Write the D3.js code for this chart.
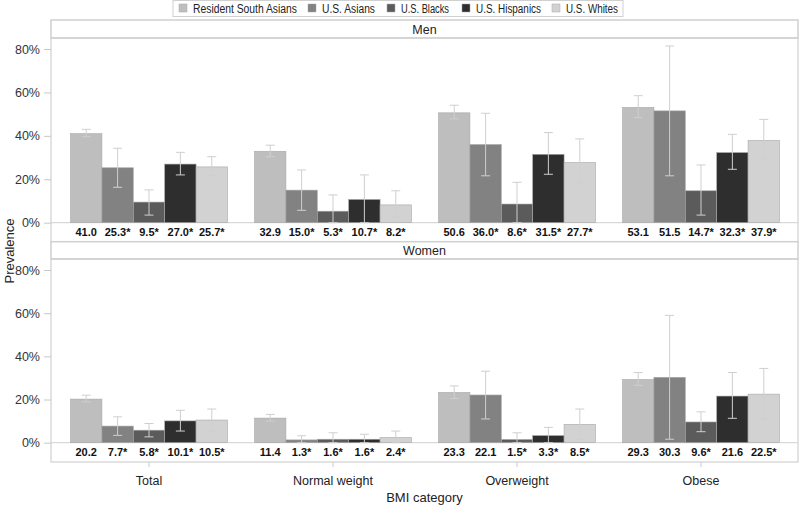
<!DOCTYPE html>
<html><head><meta charset="utf-8">
<script src="https://cdn.jsdelivr.net/npm/d3@7"></script>
<style>body{margin:0;background:#fff}svg{display:block;font-family:"Liberation Sans",Arial,sans-serif}</style>
</head><body><svg id="c" width="800" height="507"></svg>
<script>
const categories = ["Total","Normal weight","Overweight","Obese"];
const seriesNames = ["Resident South Asians","U.S. Asians","U.S. Blacks","U.S. Hispanics","U.S. Whites"];
const seriesColors = ["#bebebe","#828282","#5b5b5b","#2e2e2e","#d2d2d2"];
const yTicks = [0,20,40,60,80];

// Men: values per series across categories
const menRSA = [41.0, 32.9, 50.6, 53.1];
const menAsians = [25.3, 15.0, 36.0, 51.5];
const menBlacks = [9.5, 5.3, 8.6, 14.7];
const menHispanics = [27.0, 10.7, 31.5, 32.3];
const menWhites = [25.7, 8.2, 27.7, 37.9];
const menSig = [[0,0,0,0],[1,1,1,0],[1,1,1,1],[1,1,1,1],[1,1,1,1]];
const menLow = [[39.6,30.4,47.8,48.4],[16.3,5.7,21.6,21.6],[3.5,0,0,3.5],[22.0,0,22.3,24.6],[21.7,2.5,17.8,28.9]];
const menHigh = [[43.0,35.7,54.1,58.5],[34.3,24.3,50.4,81.4],[15.1,12.8,18.6,26.6],[32.4,22.0,41.5,40.7],[30.4,14.7,38.6,47.6]];

// Women
const womenRSA = [20.2, 11.4, 23.3, 29.3];
const womenAsians = [7.7, 1.3, 22.1, 30.3];
const womenBlacks = [5.8, 1.6, 1.5, 9.6];
const womenHispanics = [10.1, 1.6, 3.3, 21.6];
const womenWhites = [10.5, 2.4, 8.5, 22.5];
const womenSig = [[0,0,0,0],[1,1,0,0],[1,1,1,1],[1,1,1,0],[1,1,1,1]];
const womenLow = [[18.9,10.0,20.5,26.6],[3.4,0,11.0,1.6],[2.7,0,0,5.1],[5.4,0,0,11.3],[5.4,0,1.6,10.8]];
const womenHigh = [[22.0,13.1,26.3,32.5],[12.0,3.2,33.1,59.0],[8.9,4.6,4.6,14.3],[15.0,3.9,7.1,32.5],[15.6,5.4,15.6,34.4]];

const panels = [
  {title:"Men", values:[menRSA,menAsians,menBlacks,menHispanics,menWhites], sig:menSig, low:menLow, high:menHigh, top:20, hdr:38, bottom:241.7, y0:222.7, y80:49},
  {title:"Women", values:[womenRSA,womenAsians,womenBlacks,womenHispanics,womenWhites], sig:womenSig, low:womenLow, high:womenHigh, top:241.7, hdr:259, bottom:462, y0:442.7, y80:270}
];

const svg = d3.select("#c");
const L = 51, R = 798;
const border = "#d0d0d0";
const x0 = d3.scaleBand().domain(categories).range([57,793]).paddingInner(0.147).paddingOuter(0.0735);
const x1 = d3.scaleBand().domain(seriesNames).range([0, x0.bandwidth()]);
const color = d3.scaleOrdinal().domain(seriesNames).range(seriesColors);

panels.forEach(p => {
  const g = svg.append("g");
  g.append("rect").attr("x",L).attr("y",p.top).attr("width",R-L).attr("height",p.hdr-p.top)
    .attr("fill","#fff").attr("stroke",border).attr("stroke-width",1.5);
  g.append("text").attr("x",(L+R)/2).attr("y",(p.top+p.hdr)/2+4.5).attr("text-anchor","middle")
    .attr("font-size",12.5).attr("fill","#222").text(p.title);
  g.append("rect").attr("x",L).attr("y",p.hdr).attr("width",R-L).attr("height",p.bottom-p.hdr)
    .attr("fill","none").attr("stroke",border).attr("stroke-width",1.2);
  const y = d3.scaleLinear().domain([0,80]).range([p.y0,p.y80]);
  const ax = g.append("g").attr("transform",`translate(${L},0)`)
    .call(d3.axisLeft(y).tickValues(yTicks).tickFormat(d=>d+"%").tickSize(7).tickPadding(4));
  ax.select(".domain").remove();
  ax.selectAll(".tick line").attr("stroke","#c8c8c8");
  ax.selectAll(".tick text").attr("font-size",12.5).attr("fill","#333").attr("font-family","Liberation Sans, Arial, sans-serif");
  g.append("line").attr("x1",L).attr("x2",R).attr("y1",y(0)).attr("y2",y(0)).attr("stroke","#d0d0d0");
  seriesNames.forEach((s,si) => {
    categories.forEach((c,ci) => {
      const v = p.values[si][ci];
      const bx = x0(c)+x1(s);
      g.append("rect").attr("x",bx).attr("y",y(v)).attr("width",x1.bandwidth()).attr("height",y(0)-y(v))
        .attr("fill",color(s)).attr("stroke","#a8a8a8").attr("stroke-width",0.6);
    });
  });
  seriesNames.forEach((s,si) => {
    categories.forEach((c,ci) => {
      const cx = x0(c)+x1(s)+x1.bandwidth()/2;
      const lo = y(p.low[si][ci]), hi = y(p.high[si][ci]);
      const eg = g.append("g").attr("stroke","#cfcfcf").attr("stroke-width",1);
      eg.append("line").attr("x1",cx).attr("x2",cx).attr("y1",lo).attr("y2",hi);
      eg.append("line").attr("x1",cx-4.5).attr("x2",cx+4.5).attr("y1",lo).attr("y2",lo);
      eg.append("line").attr("x1",cx-4.5).attr("x2",cx+4.5).attr("y1",hi).attr("y2",hi);
    });
  });
  seriesNames.forEach((s,si) => {
    categories.forEach((c,ci) => {
      const cx = x0(c)+x1(s)+x1.bandwidth()/2;
      g.append("text").attr("x",cx).attr("y",y(0)+13.5).attr("text-anchor","middle")
        .attr("font-size",11).attr("font-weight","bold").attr("fill","#111")
        .text(p.values[si][ci].toFixed(1)+(p.sig[si][ci]?"*":""));
    });
  });
});

const xa = svg.append("g").attr("transform",`translate(0,462)`)
  .call(d3.axisBottom(x0).tickSize(5).tickPadding(9));
xa.select(".domain").remove();
xa.selectAll(".tick line").attr("stroke","#c8c8c8");
xa.selectAll(".tick text").attr("font-size",12.5).attr("fill","#222").attr("font-family","Liberation Sans, Arial, sans-serif");

svg.append("text").attr("x",(L+R)/2).attr("y",502).attr("text-anchor","middle").attr("font-size",13).attr("fill","#222").text("BMI category");
svg.append("text").attr("transform","translate(14,251) rotate(-90)").attr("text-anchor","middle").attr("font-size",13).attr("fill","#222").text("Prevalence");

const lg = svg.append("g");
lg.append("rect").attr("x",173).attr("y",0.5).attr("width",450).attr("height",16).attr("fill","#fff").attr("stroke",border);
const legX = [179,308,387,462,552];
const legW = [104,53,48,65,52];
seriesNames.forEach((s,i) => {
  lg.append("rect").attr("x",legX[i]).attr("y",4).attr("width",8).attr("height",8).attr("fill",color(s)).attr("stroke","#a8a8a8").attr("stroke-width",0.5);
  lg.append("text").attr("x",legX[i]+14).attr("y",12.5).attr("font-size",12).attr("fill","#222")
    .attr("textLength",legW[i]).attr("lengthAdjust","spacingAndGlyphs").text(s);
});
</script></body></html>
